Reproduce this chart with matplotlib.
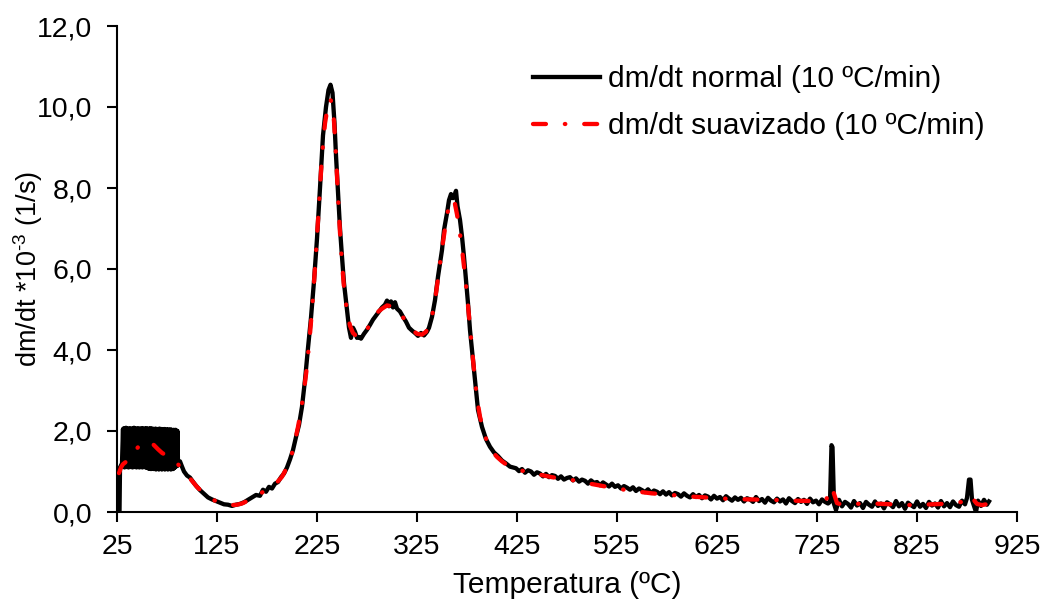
import numpy as np
import matplotlib
matplotlib.use("Agg")
import matplotlib.pyplot as plt
from matplotlib.ticker import FuncFormatter, FixedLocator

plt.rcParams['font.family'] = ['Liberation Sans', 'DejaVu Sans']
plt.rcParams['mathtext.fontset'] = 'custom'
plt.rcParams['mathtext.rm'] = 'Liberation Sans'
plt.rcParams['mathtext.it'] = 'Liberation Sans:italic'
plt.rcParams['mathtext.bf'] = 'Liberation Sans:bold'

# ---------------- data ----------------
# black curve: start of record
black_start_T = [26.5, 27.5, 28.0, 29.0, 30.0]
black_start_V = [0.0, 0.0, 1.10, 1.15, 1.20]

# black curve: oscillating block, sampled every 0.5 °C from 31 to 86
osc_T = np.arange(31.0, 86.01, 0.5)
osc_V = [2.05, 1.12, 2.07, 1.10, 2.04, 1.13, 2.08, 1.11, 2.03, 1.12,
         2.06, 1.10, 2.05, 1.13, 2.07, 1.11, 2.04, 1.12, 2.06, 1.10,
         2.05, 1.12, 2.08, 1.11, 2.03, 1.13, 2.06, 1.10, 2.05, 1.12,
         2.07, 1.11, 2.04, 1.10, 2.06, 1.12, 2.05, 1.11, 2.07, 1.10,
         2.05, 2.06, 2.04, 1.12, 2.06, 1.10, 2.05, 2.07, 1.09, 2.04,
         1.08, 2.06, 1.07, 2.05, 1.08, 2.07, 1.06, 2.04, 1.07, 2.06,
         1.08, 2.05, 1.06, 2.03, 1.07, 2.06, 1.05, 2.04, 1.07, 2.05,
         1.06, 2.03, 1.05, 2.06, 1.07, 2.04, 1.06, 2.05, 1.05, 2.03,
         1.07, 2.04, 1.06, 2.05, 1.05, 2.02, 1.07, 2.04, 1.06, 2.03,
         1.05, 2.04, 1.07, 2.02, 1.06, 2.04, 1.05, 2.03, 1.07, 2.02,
         1.06, 2.03, 1.08, 2.02, 1.10, 2.03, 1.12, 2.01, 1.14, 2.00,
         1.15]

# black curve: main body
black_mid_T = [86.5, 88, 90, 92, 95, 98, 100, 104, 108, 112, 116, 120, 124, 128,
               132, 136, 140, 144, 148, 152, 156, 160, 164, 168, 171, 174, 177,
               180, 183, 186, 189, 192, 195, 198, 201, 204, 207, 210, 213, 216,
               219, 222, 225, 228, 231, 234, 236.5, 238.5, 240.5, 242.5, 244,
               246, 248, 250, 252, 254.5, 257, 259, 261, 263, 265, 267, 269,
               272, 275, 278, 281, 284, 287, 290, 293, 295, 297, 299, 301, 303,
               305, 308, 311, 314, 317, 320, 323, 326, 329, 332, 335, 337, 340,
               343, 346, 350, 352, 355, 357, 359, 361, 362.5, 364, 365.5, 368,
               370, 372, 374, 376, 378, 381, 383, 386, 390, 394, 398, 402, 406,
               410, 414, 418, 421]
black_mid_V = [1.20, 1.25, 1.12, 1.00, 0.90, 0.85, 0.78, 0.65, 0.54, 0.45, 0.36,
               0.31, 0.27, 0.23, 0.19, 0.18, 0.15, 0.18, 0.20, 0.24, 0.30, 0.36,
               0.42, 0.40, 0.55, 0.50, 0.62, 0.58, 0.70, 0.74, 0.86, 0.95, 1.10,
               1.30, 1.53, 1.85, 2.15, 2.60, 3.26, 4.05, 4.80, 5.70, 6.75, 8.00,
               9.30, 10.00, 10.42, 10.55, 10.35, 9.60, 8.80, 7.90, 7.00, 6.30,
               5.65, 5.10, 4.55, 4.30, 4.55, 4.45, 4.30, 4.32, 4.28, 4.40, 4.50,
               4.62, 4.75, 4.85, 4.95, 5.05, 5.12, 5.22, 5.08, 5.20, 5.05, 5.18,
               5.02, 4.95, 4.82, 4.70, 4.55, 4.48, 4.42, 4.35, 4.42, 4.36, 4.45,
               4.55, 4.82, 5.23, 5.81, 6.47, 6.96, 7.38, 7.70, 7.85, 7.75, 7.82,
               7.93, 7.55, 7.21, 6.80, 6.30, 5.73, 5.15, 4.49, 3.75, 3.26, 2.52,
               2.10, 1.80, 1.61, 1.47, 1.38, 1.27, 1.20, 1.12, 1.10]

# black curve: noisy tail, sampled every 3 °C from 424 to 736
tail_T = np.arange(424, 737, 3)
tail_V = [1.08, 1.01, 1.06, 0.97, 1.03, 1.00, 0.92, 0.98, 0.95, 0.88,
          0.94, 0.86, 0.91, 0.89, 0.82, 0.88, 0.80, 0.84, 0.86, 0.78,
          0.83, 0.75, 0.80, 0.77, 0.70, 0.78, 0.72, 0.74, 0.66, 0.73,
          0.68, 0.63, 0.70, 0.62, 0.66, 0.58, 0.64, 0.60, 0.55, 0.61,
          0.52, 0.58, 0.54, 0.49, 0.56, 0.47, 0.53, 0.50, 0.44, 0.51,
          0.43, 0.49, 0.41, 0.47, 0.44, 0.38, 0.46, 0.40, 0.36, 0.44,
          0.37, 0.42, 0.34, 0.41, 0.38, 0.31, 0.40, 0.33, 0.37, 0.29,
          0.39, 0.33, 0.28, 0.36, 0.30, 0.35, 0.26, 0.34, 0.31, 0.25,
          0.37, 0.27, 0.32, 0.23, 0.35, 0.28, 0.24, 0.33, 0.26, 0.31,
          0.21, 0.34, 0.27, 0.22, 0.32, 0.25, 0.30, 0.20, 0.33, 0.24,
          0.28, 0.19, 0.31, 0.25, 0.21]

# black curve: end of record with the two spikes
black_end_T = [738, 739.5, 740.5, 742, 744, 747, 750, 753, 756, 759, 762, 765,
               768, 771, 774, 777, 780, 783, 786, 789, 792, 795, 798, 801, 804,
               807, 810, 813, 816, 819, 822, 825, 828, 831, 834, 837, 840, 843,
               846, 849, 852, 855, 858, 861, 864, 867, 870, 873, 875, 877,
               878.5, 880, 882, 884, 886, 889, 892, 895, 897]
black_end_V = [0.25, 1.65, 1.60, 0.20, 0.05, 0.30, 0.14, 0.25, 0.20, 0.11,
               0.27, 0.16, 0.22, 0.10, 0.25, 0.18, 0.13, 0.26, 0.15, 0.21,
               0.09, 0.24, 0.19, 0.12, 0.27, 0.14, 0.22, 0.08, 0.23, 0.17,
               0.12, 0.26, 0.13, 0.20, 0.10, 0.25, 0.16, 0.21, 0.11, 0.27,
               0.14, 0.22, 0.12, 0.26, 0.17, 0.13, 0.28, 0.19, 0.35, 0.80,
               0.80, 0.30, 0.15, 0.00, 0.28, 0.15, 0.30, 0.18, 0.26]

# red curve (smoothed)
red_T = [27, 29, 31, 34, 38, 42, 46, 50, 54, 58, 62, 66, 70, 74, 78, 82, 86, 90,
         95, 100, 105, 110, 115, 120, 125, 130, 135, 140, 145, 150, 155, 160,
         165, 170, 175, 180, 185, 190, 195, 200, 203, 206, 209, 212, 215, 218,
         221, 224, 227, 230, 233, 236, 238, 240, 242, 244, 246, 248, 250, 252,
         255, 258, 261, 264, 267, 270, 273, 276, 280, 285, 290, 295, 300, 305,
         310, 315, 320, 325, 330, 334, 338, 341, 344, 347, 350, 353, 356, 359,
         361, 363, 365, 367, 370, 373, 376, 379, 382, 385, 388, 392, 396, 400,
         405, 410, 415, 420, 430, 440, 450, 460, 470, 480, 490, 500, 520, 540,
         560, 580, 600, 620, 640, 660, 680, 700, 720, 730, 734, 737, 740, 742,
         745, 750, 760, 780, 800, 820, 840, 860, 870, 874, 878, 881, 885, 890,
         896]
red_V = [0.96, 1.10, 1.18, 1.24, 1.35, 1.48, 1.60, 1.68, 1.73, 1.74, 1.65, 1.55,
         1.46, 1.40, 1.34, 1.28, 1.18, 1.05, 0.92, 0.77, 0.62, 0.50, 0.40, 0.31,
         0.26, 0.22, 0.19, 0.17, 0.18, 0.21, 0.27, 0.34, 0.41, 0.48, 0.56, 0.64,
         0.73, 0.87, 1.10, 1.45, 1.75, 2.10, 2.50, 3.00, 3.60, 4.40, 5.30, 6.40,
         7.60, 8.80, 9.60, 10.05, 10.20, 10.10, 9.65, 8.80, 7.80, 6.90, 6.15,
         5.55, 4.95, 4.60, 4.42, 4.35, 4.30, 4.32, 4.42, 4.55, 4.75, 4.92, 5.02,
         5.10, 5.08, 4.98, 4.85, 4.65, 4.50, 4.40, 4.38, 4.45, 4.65, 4.95, 5.40,
         5.95, 6.50, 7.00, 7.45, 7.70, 7.72, 7.60, 7.35, 7.05, 6.50, 5.85, 5.10,
         4.30, 3.50, 2.80, 2.35, 1.95, 1.68, 1.50, 1.36, 1.25, 1.16, 1.09, 1.02,
         0.97, 0.91, 0.86, 0.82, 0.79, 0.74, 0.69, 0.60, 0.52, 0.46, 0.42, 0.38,
         0.35, 0.32, 0.31, 0.30, 0.28, 0.27, 0.27, 0.30, 0.45, 0.62, 0.45, 0.22,
         0.18, 0.20, 0.21, 0.19, 0.17, 0.19, 0.21, 0.25, 0.33, 0.42, 0.32, 0.20,
         0.17, 0.20]

x_ticks = [25, 125, 225, 325, 425, 525, 625, 725, 825, 925]
y_ticks = [0, 2, 4, 6, 8, 10, 12]
label_black = 'dm/dt normal (10 ºC/min)'
label_red = 'dm/dt suavizado (10 ºC/min)'
x_label = 'Temperatura (ºC)'
y_label = r'dm/dt *10$^{\text{-3}}$ (1/s)'

# ---------------- figure ----------------
black_T = np.concatenate([black_start_T, osc_T, black_mid_T, tail_T, black_end_T])
black_V = np.concatenate([black_start_V, osc_V, black_mid_V, tail_V, black_end_V])

fig = plt.figure(figsize=(10.46, 6.04), dpi=100)
ax = fig.add_axes([117 / 1046, 92 / 604, 900 / 1046, 486 / 604])

ax.plot(black_T, black_V, color='black', lw=3.1, solid_joinstyle='round',
        label=label_black, zorder=2)
ax.plot(red_T, red_V, color='#ff0000', lw=3.1,
        linestyle=(0, (3.0, 4.4, 0.1, 4.4)), dash_capstyle='round',
        label=label_red, zorder=3)

ax.set_xlim(25, 925)
ax.set_ylim(0, 12)
ax.xaxis.set_major_locator(FixedLocator(x_ticks))
ax.yaxis.set_major_locator(FixedLocator(y_ticks))
ax.yaxis.set_major_formatter(FuncFormatter(lambda v, p: f'{v:.1f}'.replace('.', ',')))
ax.xaxis.set_major_formatter(FuncFormatter(lambda v, p: f'{v:.0f}'))

for s in ['top', 'right']:
    ax.spines[s].set_visible(False)
for s in ['left', 'bottom']:
    ax.spines[s].set_linewidth(1.5)
ax.tick_params(axis='both', direction='out', length=7, width=1.5,
               labelsize=20.5, colors='black')
ax.tick_params(axis='x', pad=9)
ax.tick_params(axis='y', pad=11)

ax.set_xlabel(x_label, fontsize=21.5, labelpad=8)
ax.set_ylabel(y_label, fontsize=19.5, labelpad=-6)

leg = ax.legend(loc='upper left', bbox_to_anchor=(533 / 1046, 1 - 65 / 604),
                bbox_transform=fig.transFigure, frameon=False, fontsize=21.5,
                handlelength=2.25, handletextpad=0.25, labelspacing=0.65,
                borderpad=0, borderaxespad=0)

fig.savefig('out.png', dpi=100)
